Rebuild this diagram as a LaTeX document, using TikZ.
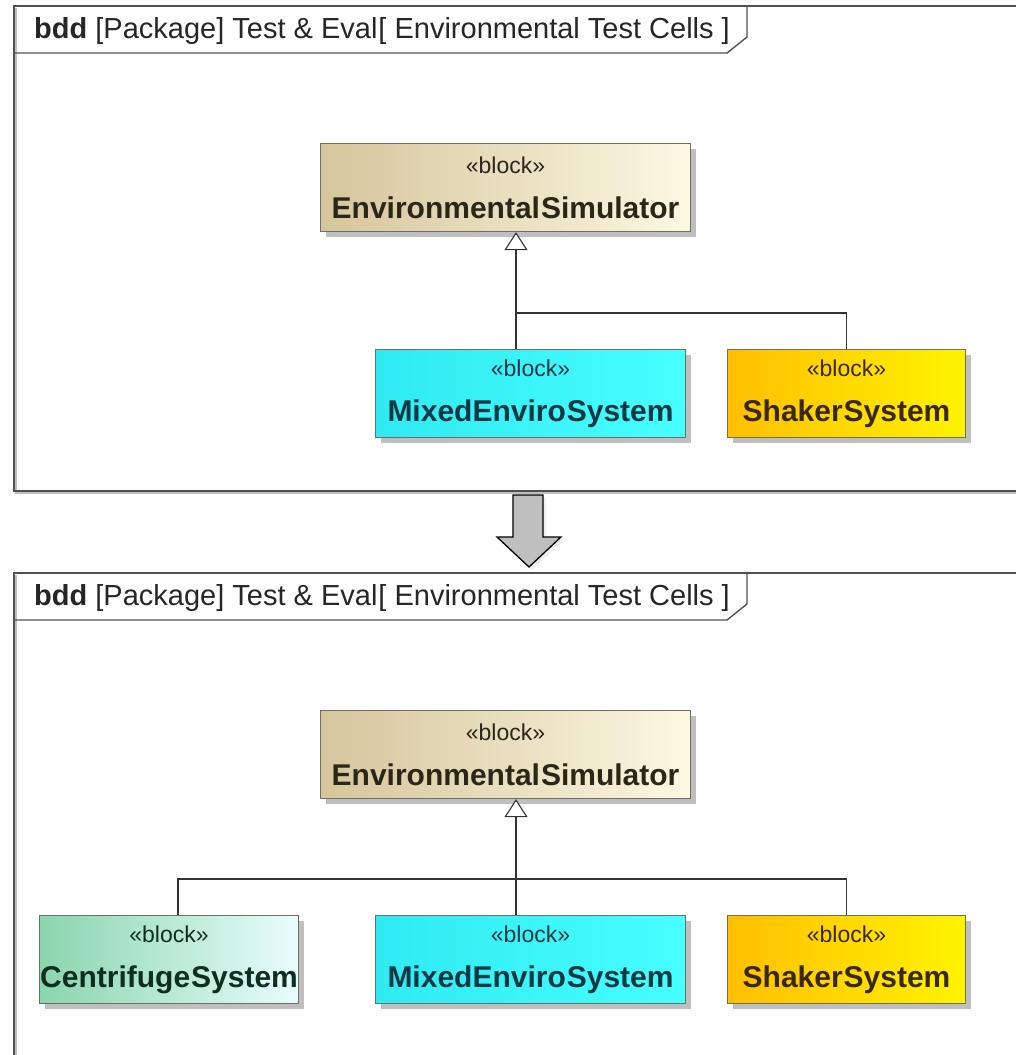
\documentclass[tikz,border=0pt]{standalone}
\usepackage{fontspec}
\setmainfont{Liberation Sans}
\usetikzlibrary{shadows,arrows.meta}

\definecolor{frameline}{HTML}{505050}
\definecolor{blockedge}{HTML}{6E6E62}
\definecolor{esL}{HTML}{D6C59C}
\definecolor{esR}{HTML}{FCF8E2}
\definecolor{mxL}{HTML}{2FEAF2}
\definecolor{mxR}{HTML}{48FFFF}
\definecolor{mxT}{HTML}{0A3945}
\definecolor{skL}{HTML}{FFBF00}
\definecolor{skR}{HTML}{FFF300}
\definecolor{skT}{HTML}{3A2800}
\definecolor{cfL}{HTML}{8AD5AE}
\definecolor{cfR}{HTML}{E8FDFD}
\definecolor{cfT}{HTML}{0E2E20}
\definecolor{esT}{HTML}{2A2618}

\newcommand{\stereo}{{\fontsize{23}{25}\selectfont «block»}}
\newcommand{\bname}[1]{{\bfseries\fontsize{30}{34}\selectfont #1}}

\tikzset{
  blk/.style={draw=blockedge, line width=1.1pt, anchor=north west,
    minimum height=88pt, inner sep=0pt, align=center,
    drop shadow={shadow xshift=5pt, shadow yshift=-5pt, fill=black!45, opacity=.55}},
  esblk/.style={blk, minimum width=370pt, left color=esL, right color=esR, text=esT},
  mxblk/.style={blk, minimum width=310pt, left color=mxL, right color=mxR, text=mxT},
  skblk/.style={blk, minimum width=238pt, left color=skL, right color=skR, text=skT},
  cfblk/.style={blk, minimum width=259pt, left color=cfL, right color=cfR, text=cfT},
  conn/.style={draw=black!80, line width=1.1pt},
  gen/.style={conn, -{Triangle[open, width=23pt, length=18pt, fill=white]}},
  frm/.style={draw=frameline, line width=2pt},
  frmshadow/.style={draw=black!25, line width=2pt},
  titletxt/.style={anchor=west, inner sep=0pt, font=\fontsize{29}{32}\selectfont, text=black!85},
}

\begin{document}
\begin{tikzpicture}[x=1pt, y=-1pt]
  \useasboundingbox (0,0) rectangle (1015,1055);
  \fill[white] (0,0) rectangle (1015,1055);

  % ---------- upper diagram frame ----------
  \draw[frmshadow] (16,8) -- (16,493) -- (1030,493);
  \draw[frm] (1030,6) -- (14,6) -- (14,491) -- (1030,491);
  \draw[frm, line width=1.4pt] (14,53) -- (727,53) -- (747,37) -- (747,6);
  \node[titletxt] (title1) at (34,31)
    {\textbf{bdd} [Package] Test \& Eval\kern1pt[ Environmental Test Cells ]};

  \node[esblk] (es1) at (320,143) {\stereo\\[22pt]\bname{Environmental\kern1pt Simulator}};
  \node[mxblk] (mx1) at (375,349) {\stereo\\[22pt]\bname{MixedEnviro\kern1pt System}};
  \node[skblk] (sk1) at (727,349) {\stereo\\[22pt]\bname{Shaker\kern1pt System}};

  \coordinate (j1) at (516,313);
  \draw[conn] (j1 |- mx1.north) -- (j1);
  \draw[conn] (sk1.north) |- (j1);
  \draw[gen] (j1) -- (j1 |- es1.south);

  % ---------- transition arrow ----------
  \coordinate (ar) at (529,495);
  \filldraw[fill=black!10, draw=none, opacity=.6]
    ([shift={(3,3)}]ar) ++(-16,0) -- ++(30,0) -- ++(0,42) -- ++(18,0)
    -- ++(-32,30) -- ++(-32,-30) -- ++(16,0) -- cycle;
  \filldraw[fill=black!25, draw=black, line width=1.3pt, line join=miter]
    (ar) ++(-16,0) -- ++(30,0) -- ++(0,42) -- ++(18,0)
    -- ++(-32,30) -- ++(-32,-30) -- ++(16,0) -- cycle;

  % ---------- lower diagram frame ----------
  \draw[frmshadow] (16,575) -- (16,1060);
  \draw[frm] (1030,573) -- (14,573) -- (14,1060);
  \draw[frm, line width=1.4pt] (14,620) -- (727,620) -- (747,604) -- (747,573);
  \node[titletxt] (title2) at (34,598)
    {\textbf{bdd} [Package] Test \& Eval\kern1pt[ Environmental Test Cells ]};

  \node[esblk] (es2) at (320,710) {\stereo\\[22pt]\bname{Environmental\kern1pt Simulator}};
  \node[cfblk] (cf2) at (39,915) {\stereo\\[22pt]\bname{Centrifuge\kern1pt System}};
  \node[mxblk] (mx2) at (375,915) {\stereo\\[22pt]\bname{MixedEnviro\kern1pt System}};
  \node[skblk] (sk2) at (727,915) {\stereo\\[22pt]\bname{Shaker\kern1pt System}};

  \coordinate (j2) at (516,879);
  \coordinate (c2) at (178,879);
  \draw[conn] (c2 |- cf2.north) -- (c2) -| (sk2.north);
  \draw[conn] (j2 |- mx2.north) -- (j2);
  \draw[gen] (j2) -- (j2 |- es2.south);
\end{tikzpicture}
\end{document}
